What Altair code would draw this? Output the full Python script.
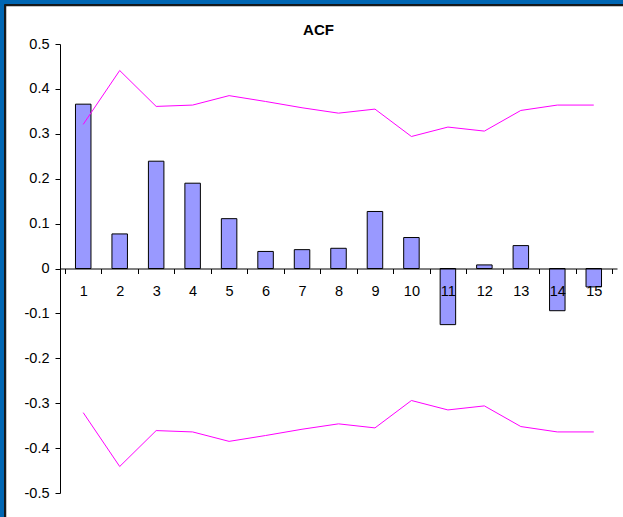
import altair as alt
import pandas as pd

lags = list(range(1, 16))
acf = [0.366, 0.077, 0.239, 0.190, 0.111, 0.038, 0.042, 0.045, 0.127, 0.069,
       -0.125, 0.008, 0.051, -0.094, -0.041]
upper = [0.321, 0.441, 0.361, 0.364, 0.385, 0.372, 0.358, 0.346, 0.355, 0.294,
         0.315, 0.306, 0.352, 0.364, 0.364]
lower = [-v for v in upper]
y_ticks = [-0.5, -0.4, -0.3, -0.2, -0.1, 0, 0.1, 0.2, 0.3, 0.4, 0.5]
x_tick_pos = [i + 0.5 for i in range(0, 16)]

df = pd.DataFrame({"lag": lags, "acf": acf, "upper": upper, "lower": lower})

W, H = 557, 449
FONT = "Liberation Sans"

xscale = alt.Scale(domain=[0.5, 15.5], nice=False, zero=False)
yscale = alt.Scale(domain=[-0.5, 0.5], nice=False)

label_expr = ("datum.value == 0 ? '0' : (datum.value < 0 ? '-' + format(-datum.value, '.1f') "
              ": format(datum.value, '.1f'))")

y_axis = alt.Axis(values=y_ticks, title=None, grid=False, tickSize=5, tickColor="black",
                  domainColor="black", labelFontSize=14.5, labelFont=FONT, orient="left",
                  labelColor="black", labelPadding=6, labelExpr=label_expr, zindex=2)

frame = alt.Chart(df).mark_rect(fill="white", stroke="#1a1a1a", strokeWidth=1.5).encode(
    x=alt.value(-54.5), x2=alt.value(580), y=alt.value(-38.5), y2=alt.value(500)
)

ticks_axis = alt.Chart(df).mark_line(opacity=0).encode(
    x=alt.X("lag:Q", scale=xscale,
            axis=alt.Axis(values=x_tick_pos, title=None, labels=False, tickSize=5,
                          tickColor="black", domainColor="black", grid=False, orient="bottom",
                          offset=-H / 2, zindex=2)),
    y=alt.Y("acf:Q", scale=yscale, axis=y_axis),
)

bars = alt.Chart(df).mark_bar(size=15.5, fill="#9999ff", stroke="black", strokeWidth=1).encode(
    x=alt.X("lag:Q", scale=xscale,
            axis=alt.Axis(values=lags, title=None, tickSize=0, domain=False, grid=False,
                          labelPadding=16, labelFontSize=14.5, labelFont=FONT, labelColor="black",
                          labelFlush=False, orient="bottom", offset=-H / 2, zindex=3)),
    y=alt.Y("acf:Q", scale=yscale, axis=y_axis),
    y2=alt.datum(0),
)

up_line = alt.Chart(df).mark_line(color="#ff00ff", strokeWidth=1).encode(
    x=alt.X("lag:Q", scale=xscale),
    y=alt.Y("upper:Q", scale=yscale),
)
low_line = alt.Chart(df).mark_line(color="#ff00ff", strokeWidth=1).encode(
    x=alt.X("lag:Q", scale=xscale),
    y=alt.Y("lower:Q", scale=yscale),
)

chart = alt.layer(frame, ticks_axis, bars, up_line, low_line).resolve_axis(
    x="independent"
).properties(
    width=W, height=H,
    title=alt.TitleParams("ACF", font=FONT, fontSize=15, fontWeight="bold", color="black",
                          dx=-20, offset=-45, anchor="middle", frame="group",
                          baseline="alphabetic"),
    autosize=alt.AutoSizeParams(type="none"),
    padding={"left": 60, "top": 44, "right": 6, "bottom": 24},
    background="#0066b3",
).configure_view(stroke=None)

chart.save("out.html", embed_options={"renderer": "svg", "actions": False})
